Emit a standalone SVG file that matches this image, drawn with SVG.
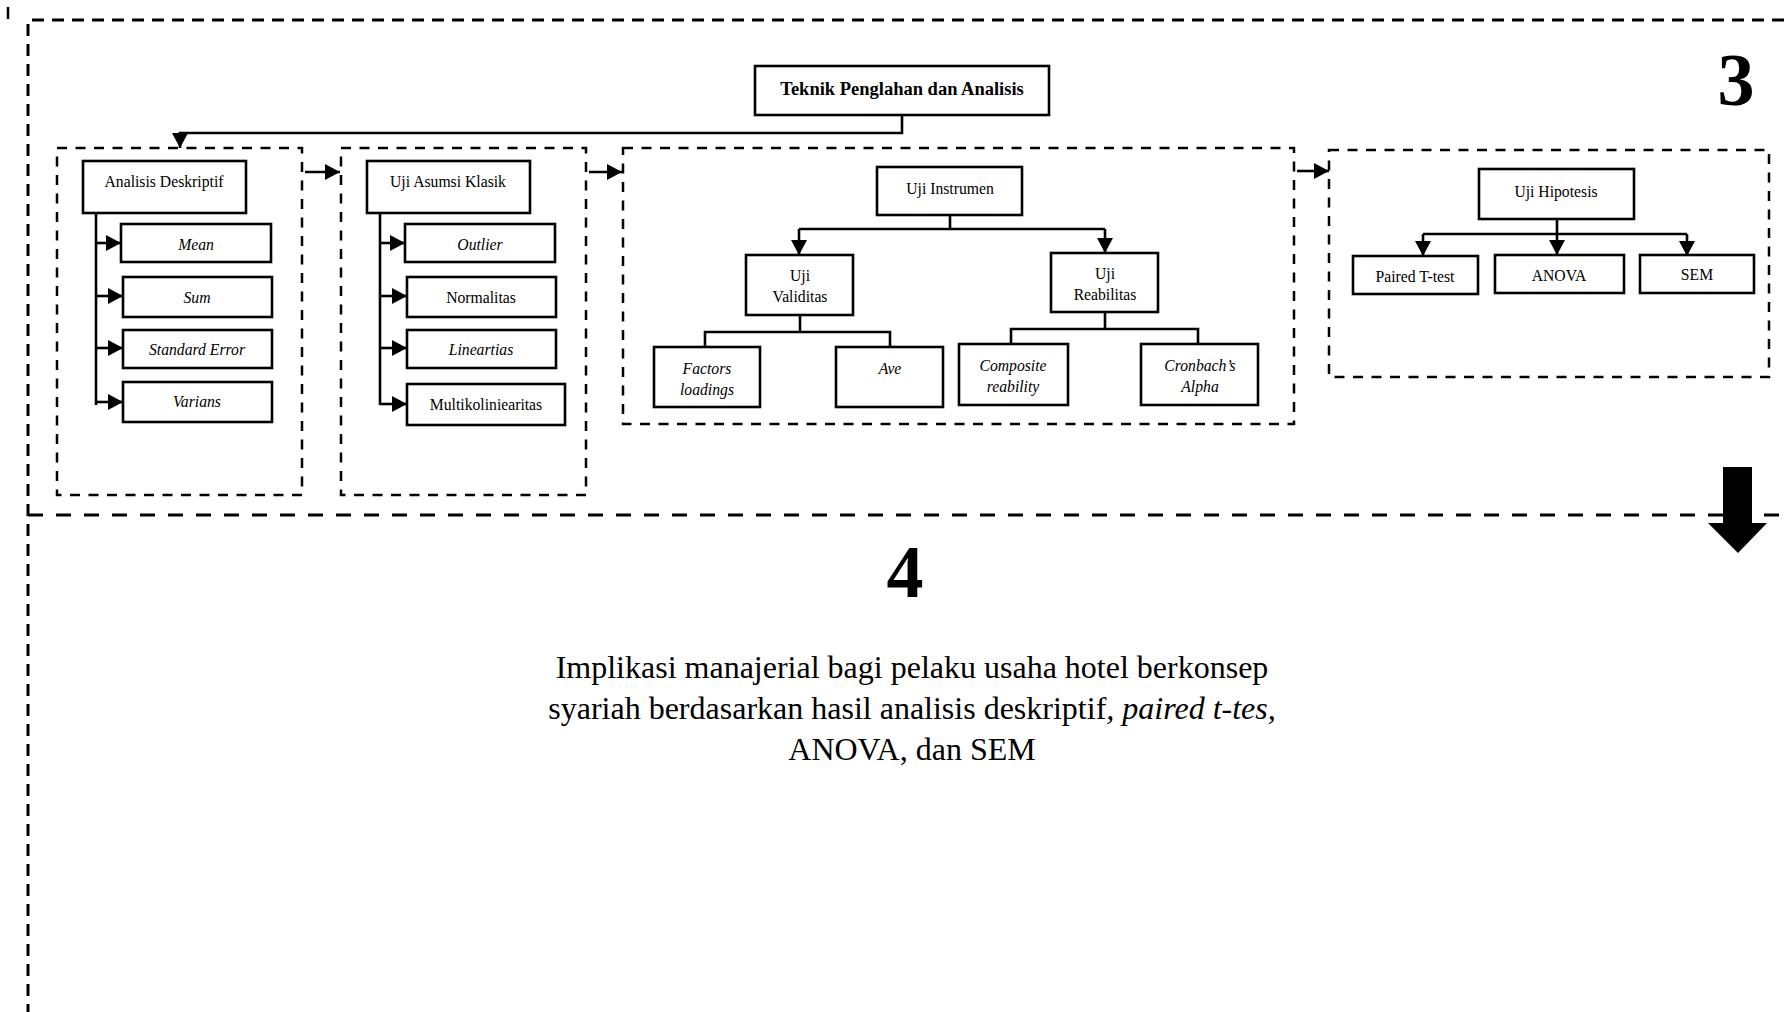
<svg xmlns="http://www.w3.org/2000/svg" width="1784" height="1012" viewBox="0 0 1784 1012">
  <style>
    text { font-family: "Liberation Serif", "Times New Roman", serif; fill: #000; }
    .lbl { font-size: 15.7px; text-anchor: middle; }
    .it { font-style: italic; }
    .box { fill: #fff; stroke: #000; stroke-width: 2.6; }
    .frame { fill: none; stroke: #000; stroke-width: 3; stroke-dasharray: 12 8; }
    .split { fill: none; stroke: #000; stroke-width: 3; stroke-dasharray: 15 13; }
    .group { fill: none; stroke: #000; stroke-width: 2.5; stroke-dasharray: 10 8.5; }
    .wire { fill: none; stroke: #000; stroke-width: 2.6; }
    .num { font-size: 74px; font-weight: bold; text-anchor: middle; }
    .body { font-size: 32px; text-anchor: middle; }
  </style>
  <defs>
    <marker id="ah" viewBox="0 0 15 16" refX="15" refY="8" markerWidth="15" markerHeight="16" markerUnits="userSpaceOnUse" orient="auto">
      <path d="M0,0L15,8L0,16z" fill="#000"/>
    </marker>
  </defs>
  <rect width="1784" height="1012" fill="#fff"/>

  <!-- section frames -->
  <g id="frames">
    <line x1="8" y1="7" x2="8" y2="19" stroke="#000" stroke-width="2.5"/>
    <path class="frame" d="M1784,20 H28 V1012"/>
    <path class="split" d="M28,515 H1784"/>
    <rect class="group" x="57" y="148" width="245" height="347"/>
    <rect class="group" x="341" y="148" width="245" height="347"/>
    <rect class="group" x="623" y="148" width="671" height="276"/>
    <rect class="group" x="1329" y="150" width="440" height="227"/>
  </g>

  <!-- connectors -->
  <g id="connectors">
    <path class="wire" d="M902,115 V133 H180 V148" marker-end="url(#ah)"/>
    <path class="wire" d="M305,172 H340" marker-end="url(#ah)"/>
    <path class="wire" d="M589,172 H622" marker-end="url(#ah)"/>
    <path class="wire" d="M1297,171 H1329" marker-end="url(#ah)"/>

    <path class="wire" d="M96,213 V405"/>
    <path class="wire" d="M96,243 H121" marker-end="url(#ah)"/>
    <path class="wire" d="M96,296 H123" marker-end="url(#ah)"/>
    <path class="wire" d="M96,348 H123" marker-end="url(#ah)"/>
    <path class="wire" d="M96,402 H123" marker-end="url(#ah)"/>

    <path class="wire" d="M380,213 V405"/>
    <path class="wire" d="M380,243 H405" marker-end="url(#ah)"/>
    <path class="wire" d="M380,296 H407" marker-end="url(#ah)"/>
    <path class="wire" d="M380,348 H407" marker-end="url(#ah)"/>
    <path class="wire" d="M380,404 H407" marker-end="url(#ah)"/>

    <path class="wire" d="M950,215 V229 M799,229 H1105"/>
    <path class="wire" d="M799,229 V255" marker-end="url(#ah)"/>
    <path class="wire" d="M1105,229 V253" marker-end="url(#ah)"/>

    <path class="wire" d="M800,315 V332 M705,347 V332 H890 V347"/>
    <path class="wire" d="M1105,312 V329 M1011,344 V329 H1198 V344"/>

    <path class="wire" d="M1423,234 H1687"/>
    <path class="wire" d="M1557,219 V255" marker-end="url(#ah)"/>
    <path class="wire" d="M1423,234 V256" marker-end="url(#ah)"/>
    <path class="wire" d="M1687,234 V256" marker-end="url(#ah)"/>

    <polygon points="1723,467 1752,467 1752,523 1767,523 1738,553 1708,523 1723,523" fill="#000"/>
  </g>

  <!-- top node -->
  <g id="teknik">
    <rect class="box" x="755" y="66" width="294" height="49"/>
    <text x="902" y="95" font-size="18.5" font-weight="bold" text-anchor="middle">Teknik Penglahan dan Analisis</text>
  </g>

  <!-- descriptive analysis -->
  <g id="analisis-deskriptif">
    <rect class="box" x="83" y="161" width="163" height="52"/>
    <text class="lbl" x="164" y="187">Analisis Deskriptif</text>
  </g>
  <g id="mean">
    <rect class="box" x="121" y="224" width="150" height="38"/>
    <text class="lbl it" x="196" y="250">Mean</text>
  </g>
  <g id="sum">
    <rect class="box" x="123" y="277" width="149" height="40"/>
    <text class="lbl it" x="197" y="303">Sum</text>
  </g>
  <g id="standard-error">
    <rect class="box" x="123" y="330" width="149" height="38"/>
    <text class="lbl it" x="197" y="355">Standard Error</text>
  </g>
  <g id="varians">
    <rect class="box" x="123" y="382" width="149" height="40"/>
    <text class="lbl it" x="197" y="407">Varians</text>
  </g>

  <!-- classical assumption tests -->
  <g id="uji-asumsi-klasik">
    <rect class="box" x="367" y="161" width="163" height="52"/>
    <text class="lbl" x="448" y="187">Uji Asumsi Klasik</text>
  </g>
  <g id="outlier">
    <rect class="box" x="405" y="224" width="150" height="38"/>
    <text class="lbl it" x="480" y="250">Outlier</text>
  </g>
  <g id="normalitas">
    <rect class="box" x="407" y="277" width="149" height="40"/>
    <text class="lbl" x="481" y="303">Normalitas</text>
  </g>
  <g id="lineartias">
    <rect class="box" x="407" y="330" width="149" height="38"/>
    <text class="lbl it" x="481" y="355">Lineartias</text>
  </g>
  <g id="multikoliniearitas">
    <rect class="box" x="407" y="384" width="158" height="41"/>
    <text class="lbl" x="486" y="410">Multikoliniearitas</text>
  </g>

  <!-- instrument tests -->
  <g id="uji-instrumen">
    <rect class="box" x="877" y="167" width="145" height="48"/>
    <text class="lbl" x="950" y="194">Uji Instrumen</text>
  </g>
  <g id="uji-validitas">
    <rect class="box" x="746" y="255" width="107" height="60"/>
    <text class="lbl" x="800" y="281">Uji</text>
    <text class="lbl" x="800" y="302">Validitas</text>
  </g>
  <g id="uji-reabilitas">
    <rect class="box" x="1051" y="253" width="107" height="59"/>
    <text class="lbl" x="1105" y="279">Uji</text>
    <text class="lbl" x="1105" y="300">Reabilitas</text>
  </g>
  <g id="factors-loadings">
    <rect class="box" x="654" y="347" width="106" height="60"/>
    <text class="lbl it" x="707" y="374">Factors</text>
    <text class="lbl it" x="707" y="395">loadings</text>
  </g>
  <g id="ave">
    <rect class="box" x="836" y="347" width="107" height="60"/>
    <text class="lbl it" x="890" y="374">Ave</text>
  </g>
  <g id="composite-reability">
    <rect class="box" x="959" y="344" width="109" height="61"/>
    <text class="lbl it" x="1013" y="371">Composite</text>
    <text class="lbl it" x="1013" y="392">reability</text>
  </g>
  <g id="cronbachs-alpha">
    <rect class="box" x="1141" y="344" width="117" height="61"/>
    <text class="lbl it" x="1200" y="371">Cronbach’s</text>
    <text class="lbl it" x="1200" y="392">Alpha</text>
  </g>

  <!-- hypothesis tests -->
  <g id="uji-hipotesis">
    <rect class="box" x="1479" y="169" width="155" height="50"/>
    <text class="lbl" x="1556" y="197">Uji Hipotesis</text>
  </g>
  <g id="paired-t-test">
    <rect class="box" x="1353" y="256" width="125" height="38"/>
    <text class="lbl" x="1415" y="282">Paired T-test</text>
  </g>
  <g id="anova">
    <rect class="box" x="1495" y="255" width="129" height="38"/>
    <text class="lbl" x="1559" y="281">ANOVA</text>
  </g>
  <g id="sem">
    <rect class="box" x="1640" y="255" width="114" height="38"/>
    <text class="lbl" x="1697" y="280">SEM</text>
  </g>

  <!-- section numbers -->
  <g id="section-3">
    <text class="num" x="1736" y="105">3</text>
  </g>
  <g id="section-4">
    <text class="num" x="905" y="597">4</text>
    <text class="body" x="912" y="678">Implikasi manajerial bagi pelaku usaha hotel berkonsep</text>
    <text class="body" x="912" y="719">syariah berdasarkan hasil analisis deskriptif<tspan font-style="italic">, paired t-tes,</tspan></text>
    <text class="body" x="912" y="760">ANOVA, dan SEM</text>
  </g>
</svg>
